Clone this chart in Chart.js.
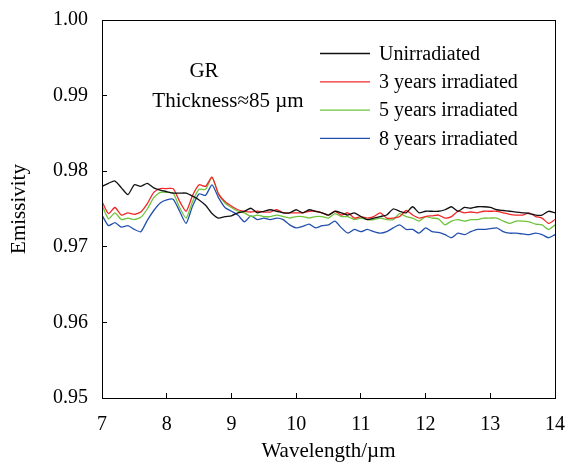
<!DOCTYPE html>
<html><head><meta charset="utf-8">
<script src="https://cdn.jsdelivr.net/npm/chart.js@4.4.0/dist/chart.umd.min.js"></script>
<style>html,body{margin:0;padding:0;background:#fff;}</style>
</head><body>
<canvas id="c" width="568" height="462"></canvas>
<script>
const wavelength = [7.0,7.1,7.2,7.3,7.4,7.5,7.6,7.7,7.8,7.9,8.0,8.1,8.2,8.3,8.4,8.5,8.6,8.7,8.8,8.9,
9.0,9.1,9.2,9.3,9.4,9.5,9.6,9.7,9.8,9.9,10.0,10.1,10.2,10.3,10.4,10.5,10.6,10.7,10.8,10.9,
11.0,11.1,11.2,11.3,11.4,11.5,11.6,11.7,11.8,11.9,12.0,12.1,12.2,12.3,12.4,12.5,12.6,12.7,12.8,12.9,
13.0,13.1,13.2,13.3,13.4,13.5,13.6,13.7,13.8,13.9,14.0];

const unirradiated = [0.9780,0.9784,0.9787,0.9778,0.9769,0.9782,0.9780,0.9784,0.9778,0.9775,
0.9773,0.9771,0.9771,0.9771,0.9767,0.9762,0.9755,0.9744,0.9738,0.9740,
0.9741,0.9745,0.9747,0.9751,0.9745,0.9747,0.9749,0.9747,0.9745,0.9745,
0.9749,0.9745,0.9749,0.9747,0.9745,0.9742,0.9747,0.9745,0.9742,0.9745,
0.9740,0.9736,0.9738,0.9740,0.9742,0.9750,0.9747,0.9745,0.9753,0.9745,
0.9747,0.9747,0.9747,0.9749,0.9753,0.9747,0.9752,0.9751,0.9753,0.9753,
0.9752,0.9749,0.9748,0.9747,0.9746,0.9745,0.9744,0.9742,0.9742,0.9747,0.9745];

const years3 = [0.9760,0.9744,0.9752,0.9742,0.9745,0.9743,0.9746,0.9757,0.9772,0.9777,
0.9777,0.9777,0.9760,0.9747,0.9768,0.9782,0.9780,0.9792,0.9770,0.9760,
0.9754,0.9749,0.9747,0.9746,0.9747,0.9746,0.9746,0.9749,0.9745,0.9745,
0.9745,0.9745,0.9747,0.9747,0.9745,0.9742,0.9747,0.9742,0.9745,0.9738,
0.9740,0.9738,0.9740,0.9745,0.9738,0.9738,0.9740,0.9748,0.9742,0.9738,
0.9740,0.9741,0.9742,0.9738,0.9740,0.9747,0.9745,0.9746,0.9745,0.9747,
0.9747,0.9747,0.9745,0.9743,0.9742,0.9742,0.9745,0.9740,0.9738,0.9731,0.9736];

const years5 = [0.9755,0.9737,0.9745,0.9736,0.9738,0.9736,0.9739,0.9750,0.9765,0.9772,
0.9772,0.9771,0.9752,0.9738,0.9760,0.9776,0.9776,0.9792,0.9770,0.9758,
0.9752,0.9747,0.9745,0.9740,0.9742,0.9740,0.9740,0.9742,0.9740,0.9738,
0.9740,0.9740,0.9738,0.9740,0.9740,0.9738,0.9744,0.9740,0.9740,0.9736,
0.9738,0.9736,0.9736,0.9738,0.9736,0.9736,0.9744,0.9740,0.9738,0.9734,
0.9740,0.9738,0.9737,0.9729,0.9734,0.9736,0.9734,0.9736,0.9736,0.9738,
0.9738,0.9738,0.9734,0.9731,0.9734,0.9734,0.9733,0.9730,0.9729,0.9723,0.9729];

const years8 = [0.9742,0.9728,0.9732,0.9726,0.9728,0.9723,0.9720,0.9735,0.9748,0.9758,
0.9762,0.9763,0.9747,0.9731,0.9754,0.9770,0.9768,0.9782,0.9765,0.9752,
0.9747,0.9742,0.9733,0.9741,0.9736,0.9738,0.9736,0.9738,0.9736,0.9729,
0.9725,0.9727,0.9730,0.9725,0.9728,0.9729,0.9734,0.9725,0.9718,0.9723,
0.9720,0.9723,0.9720,0.9718,0.9720,0.9725,0.9729,0.9723,0.9723,0.9718,
0.9725,0.9720,0.9719,0.9716,0.9712,0.9718,0.9716,0.9720,0.9723,0.9723,
0.9724,0.9725,0.9720,0.9718,0.9718,0.9717,0.9716,0.9718,0.9716,0.9712,0.9716];

const seriesNames = ['Unirradiated','3 years irradiated','5 years irradiated','8 years irradiated'];
const seriesColors = ['#111111','rgb(240,40,40)','rgb(110,196,60)','rgb(35,80,175)'];
const xTickValues = [7,8,9,10,11,12,13,14];
const yTickValues = [0.95,0.96,0.97,0.98,0.99,1.00];
const annotationLines = ['GR','Thickness≈85 µm'];

const FONT = 'Liberation Serif';

function pts(arr){ return arr.map((v,i)=>({x:wavelength[i], y:v})); }
const allSeries = [unirradiated, years3, years5, years8];

const overlay = {
  id:'overlay',
  afterDraw(chart){
    const ctx = chart.ctx, a = chart.chartArea;
    ctx.save();
    ctx.strokeStyle = '#000'; ctx.lineWidth = 1;
    ctx.strokeRect(Math.round(a.left)+0.5, Math.round(a.top)+0.5, Math.round(a.right-a.left), Math.round(a.bottom-a.top));
    ctx.fillStyle = '#000';
    ctx.font = '21px "'+FONT+'"';
    ctx.textAlign = 'center'; ctx.textBaseline = 'middle';
    ctx.fillText(annotationLines[0], 204, 71);
    ctx.fillText(annotationLines[1], 228, 101);
    // legend
    ctx.font = '20px "'+FONT+'"';
    ctx.textAlign = 'left';
    chart.data.datasets.forEach((ds,i)=>{
      const y = 53.5 + i*28.3;
      ctx.strokeStyle = ds.borderColor; ctx.lineWidth = 1.3;
      ctx.beginPath(); ctx.moveTo(320,y); ctx.lineTo(370,y); ctx.stroke();
      ctx.fillStyle = '#000';
      ctx.fillText(ds.label, 379, y+1);
    });
    ctx.restore();
  }
};

new Chart(document.getElementById('c'), {
  type:'line',
  data:{ datasets: allSeries.map((s,i)=>({
    label: seriesNames[i], data: pts(s), borderColor: seriesColors[i],
    borderWidth:1.3, pointRadius:0, tension:0.2, fill:false
  }))},
  options:{
    responsive:false, animation:false,
    layout:{padding:{left:0,right:13,top:20,bottom:0}},
    plugins:{legend:{display:false}, tooltip:{enabled:false}},
    scales:{
      x:{type:'linear', min:7, max:14,
        afterBuildTicks:s=>{s.ticks = xTickValues.map(v=>({value:v}));},
        afterFit:s=>{s.height = 64; s.paddingLeft = 0; s.paddingRight = 0;},
        grid:{drawOnChartArea:false, drawTicks:true, tickLength:-5, color:'#000', lineWidth:1},
        border:{display:true, color:'#000', width:1},
        ticks:{color:'#000', font:{family:FONT, size:20}, padding:20, maxRotation:0, autoSkip:false},
        title:{display:true, text:'Wavelength/µm', color:'#000', font:{family:FONT, size:21, lineHeight:1}, padding:0}
      },
      y:{min:0.95, max:1.0,
        afterBuildTicks:s=>{s.ticks = yTickValues.map(v=>({value:v}));},
        afterFit:s=>{s.width = 102; s.paddingTop = 0; s.paddingBottom = 0;},
        grid:{drawOnChartArea:false, drawTicks:true, tickLength:-5, color:'#000', lineWidth:1},
        border:{display:true, color:'#000', width:1},
        ticks:{color:'#000', font:{family:FONT, size:20}, padding:19, callback:v=>Number(v).toFixed(2)},
        title:{display:true, text:'Emissivity', color:'#000', font:{family:FONT, size:21, lineHeight:1}, padding:{top:9,bottom:0}}
      }
    }
  },
  plugins:[overlay]
});
</script>
</body></html>
